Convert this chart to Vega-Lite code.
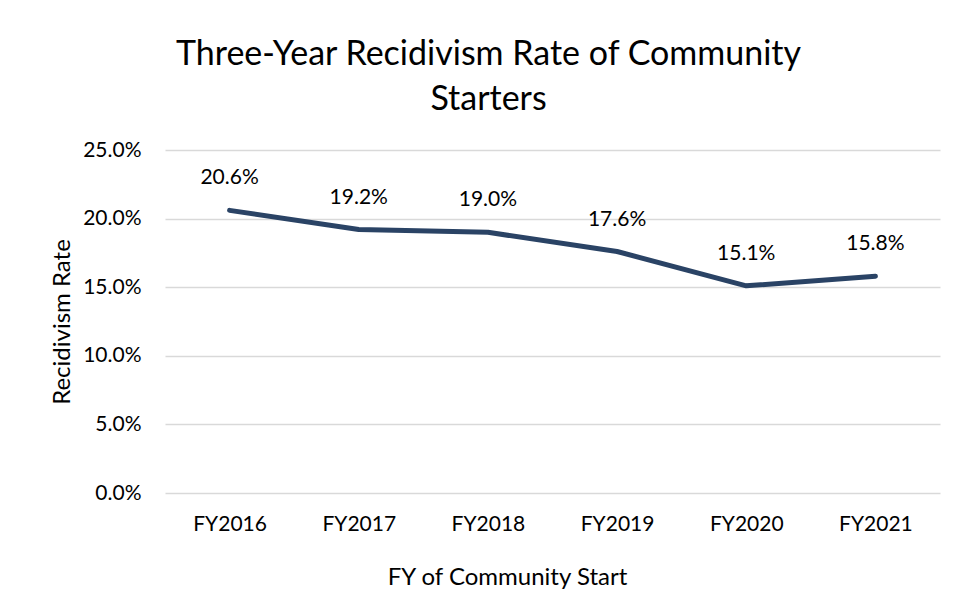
{
  "$schema": "https://vega.github.io/schema/vega-lite/v6.json",
  "width": 775,
  "height": 343,
  "autosize": {"type": "none"},
  "padding": {"left": 165, "top": 150, "right": 19, "bottom": 114},
  "background": "white",
  "config": {"view": {"stroke": null}, "font": "Lato"},
  "title": {
    "text": ["Three-Year Recidivism Rate of Community", "Starters"],
    "fontSize": 34,
    "font": "Lato",
    "fontWeight": "normal",
    "color": "#000000",
    "anchor": "middle",
    "frame": "group",
    "dx": -64,
    "lineHeight": 45,
    "offset": 22
  },
  "data": {
    "values": [
      {"fy": "FY2016", "rate": 0.206},
      {"fy": "FY2017", "rate": 0.192},
      {"fy": "FY2018", "rate": 0.190},
      {"fy": "FY2019", "rate": 0.176},
      {"fy": "FY2020", "rate": 0.151},
      {"fy": "FY2021", "rate": 0.158}
    ]
  },
  "encoding": {
    "x": {
      "field": "fy",
      "type": "ordinal",
      "sort": null,
      "scale": {"type": "point", "padding": 0.5},
      "axis": {
        "labelAngle": 0,
        "labelPadding": 20,
        "labelFontSize": 21,
        "labelColor": "#000000",
        "domain": false,
        "ticks": false,
        "grid": false,
        "title": "FY of Community Start",
        "titleFontSize": 24,
        "titleFontWeight": "normal",
        "titleColor": "#000000",
        "titleX": 342,
        "titleY": 84,
        "titleAlign": "center",
        "titleBaseline": "middle"
      }
    },
    "y": {
      "field": "rate",
      "type": "quantitative",
      "scale": {"domain": [0, 0.25]},
      "axis": {
        "values": [0, 0.05, 0.1, 0.15, 0.2, 0.25],
        "format": ".1%",
        "grid": true,
        "gridColor": "#d9d9d9",
        "gridWidth": 1.5,
        "domain": false,
        "ticks": false,
        "labelPadding": 24,
        "labelFontSize": 21,
        "labelColor": "#000000",
        "title": "Recidivism Rate",
        "titleFontSize": 24,
        "titleFontWeight": "normal",
        "titleColor": "#000000",
        "titleAngle": -90,
        "titleX": -103,
        "titleY": 171.5,
        "titleAlign": "center",
        "titleBaseline": "middle"
      }
    }
  },
  "layer": [
    {
      "mark": {"type": "line", "color": "#2A4365", "strokeWidth": 5, "strokeCap": "round", "strokeJoin": "round"}
    },
    {
      "mark": {"type": "text", "dy": -32, "fontSize": 21, "color": "#000000", "baseline": "middle"},
      "encoding": {"text": {"field": "rate", "type": "quantitative", "format": ".1%"}}
    }
  ]
}
